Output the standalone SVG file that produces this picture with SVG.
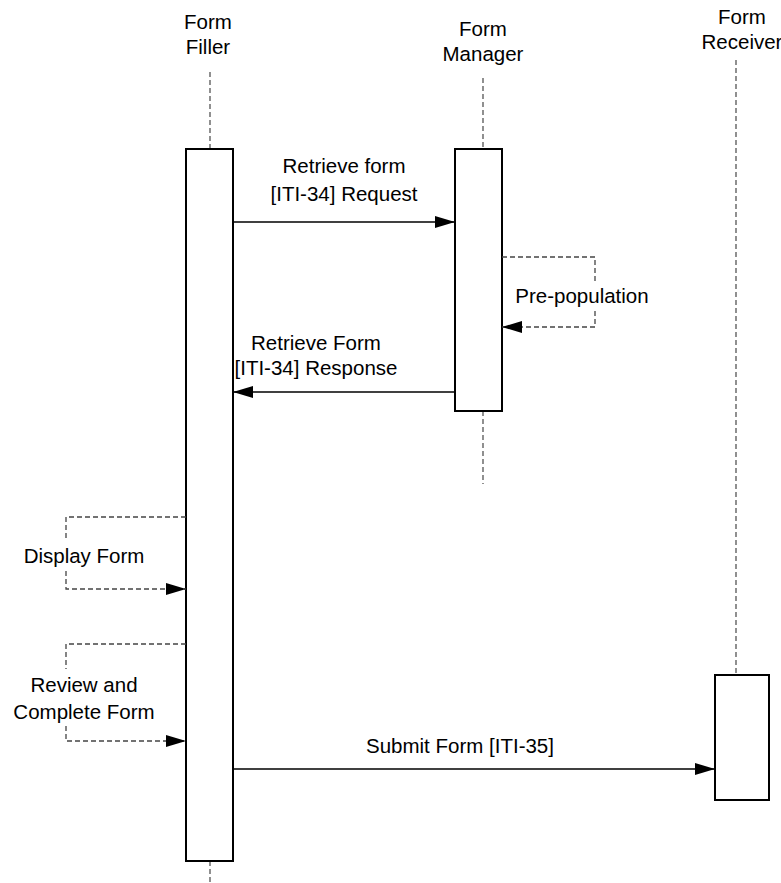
<svg xmlns="http://www.w3.org/2000/svg" width="781" height="883" viewBox="0 0 781 883">
<style>
text{font-family:"Liberation Sans",Arial,sans-serif;font-size:20.5px;fill:#000;text-anchor:middle}
.life{stroke:#555;stroke-width:1.3;stroke-dasharray:5,3;fill:none}
.act{fill:#fff;stroke:#000;stroke-width:2}
.msg{stroke:#000;stroke-width:1.3;fill:none}
.self{stroke:#444;stroke-width:1.3;stroke-dasharray:5,3;fill:none}
</style>
<defs>
<marker id="ah" viewBox="0 0 20 12" refX="20" refY="6" markerWidth="20" markerHeight="12" markerUnits="userSpaceOnUse" orient="auto"><path d="M0,0 L20,6 L0,12 Z" fill="#000"/></marker>
</defs>
<g id="filler">
<text x="208" y="29">Form</text>
<text x="208" y="54">Filler</text>
<line class="life" x1="210" y1="72" x2="210" y2="149"/>
<line class="life" x1="210" y1="861" x2="210" y2="883"/>
<rect class="act" x="186" y="149" width="47" height="712"/>
</g>
<g id="manager">
<text x="483" y="36">Form</text>
<text x="483" y="61">Manager</text>
<line class="life" x1="483" y1="78" x2="483" y2="149"/>
<line class="life" x1="483" y1="411" x2="483" y2="484"/>
<rect class="act" x="455" y="149" width="47" height="262"/>
</g>
<g id="receiver">
<text x="742" y="24">Form</text>
<text x="742" y="49">Receiver</text>
<line class="life" x1="736" y1="60" x2="736" y2="675"/>
<rect class="act" x="715" y="675" width="54" height="125"/>
</g>
<g id="connectors">
<path class="msg" d="M233,222 H455" marker-end="url(#ah)"/>
<path class="self" d="M502,257 H595 V281 M595,311 V327 H502" marker-end="url(#ah)"/>
<path class="msg" d="M455,392 H233" marker-end="url(#ah)"/>
<path class="self" d="M186,517 H66 V541 M66,571 V589 H186" marker-end="url(#ah)"/>
<path class="self" d="M186,644 H66 V669 M66,726 V741 H186" marker-end="url(#ah)"/>
<path class="msg" d="M233,769 H715" marker-end="url(#ah)"/>
</g>
<g id="labels">
<text x="344" y="173">Retrieve form</text>
<text x="344" y="201">[ITI-34] Request</text>
<text x="582" y="303">Pre-population</text>
<text x="316" y="350">Retrieve Form</text>
<text x="316" y="375">[ITI-34] Response</text>
<text x="84" y="563">Display Form</text>
<text x="84" y="692">Review and</text>
<text x="84" y="719">Complete Form</text>
<text x="460" y="753">Submit Form [ITI-35]</text>
</g>
</svg>
